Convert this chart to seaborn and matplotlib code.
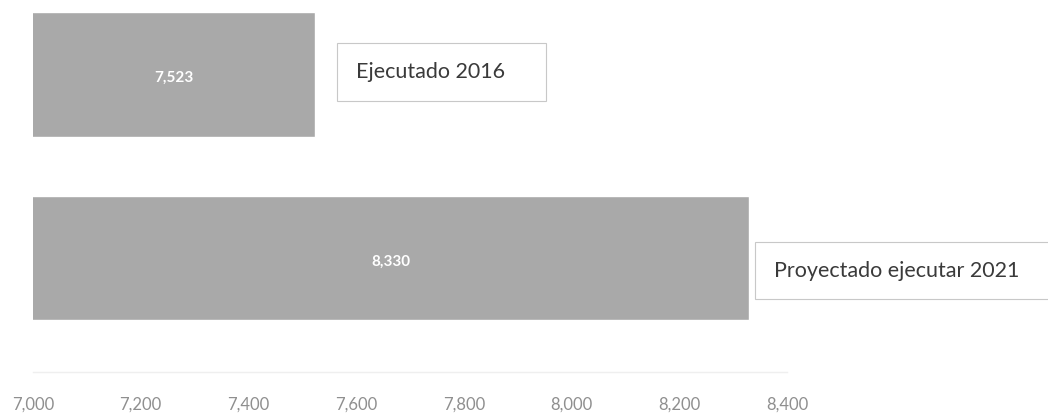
import pandas as pd
import matplotlib.pyplot as plt
import seaborn as sns

categories = ['Ejecutado 2016', 'Proyectado ejecutar 2021']
values = [7523, 8330]
x_ticks = [7000, 7200, 7400, 7600, 7800, 8000, 8200, 8400]

# label box offsets from bar end (points) - the two callouts sit differently
label_offsets = [(30, 2), (18, -9)]

sns.set_theme(style='white')
plt.rcParams['font.family'] = ['Lato', 'DejaVu Sans']

df = pd.DataFrame({'categoria': categories, 'valor': values})

fig = plt.figure(figsize=(10.48, 4.15), dpi=100)
ax = fig.add_axes([33 / 1048, 43 / 415, 754 / 1048, 372 / 415])

sns.barplot(data=df, x='valor', y='categoria', orient='h', color='#a9a9a9',
            width=0.68, saturation=1, ax=ax)

ax.set_xlim(7000, 8400)
ax.set_ylim(1.621, -0.406)
ax.set_xticks(x_ticks)
ax.set_xticklabels(['{:,}'.format(t) for t in x_ticks])
ax.tick_params(axis='x', length=0, pad=18, labelsize=12, labelcolor='#8f8f8f')
ax.set_yticks([])
ax.set_xlabel('')
ax.set_ylabel('')

for side in ['top', 'right', 'left']:
    ax.spines[side].set_visible(False)
ax.spines['bottom'].set_color('#efefef')
ax.spines['bottom'].set_linewidth(1.0)

for i, (cat, val) in enumerate(zip(categories, values)):
    # value in the middle of the visible bar
    ax.text((7000 + val) / 2, i + 0.02, '{:,}'.format(val), ha='center', va='center',
            color='white', fontsize=11, fontweight='bold')
    ax.annotate(cat + '    ', xy=(val, i), xytext=label_offsets[i],
                textcoords='offset points', ha='left', va='center',
                fontsize=15.5, color='#3a3a3a', annotation_clip=False,
                bbox=dict(boxstyle='square,pad=0.88', fc='white', ec='#c8c8c8', lw=0.8))

plt.savefig('out.png', dpi=100)
